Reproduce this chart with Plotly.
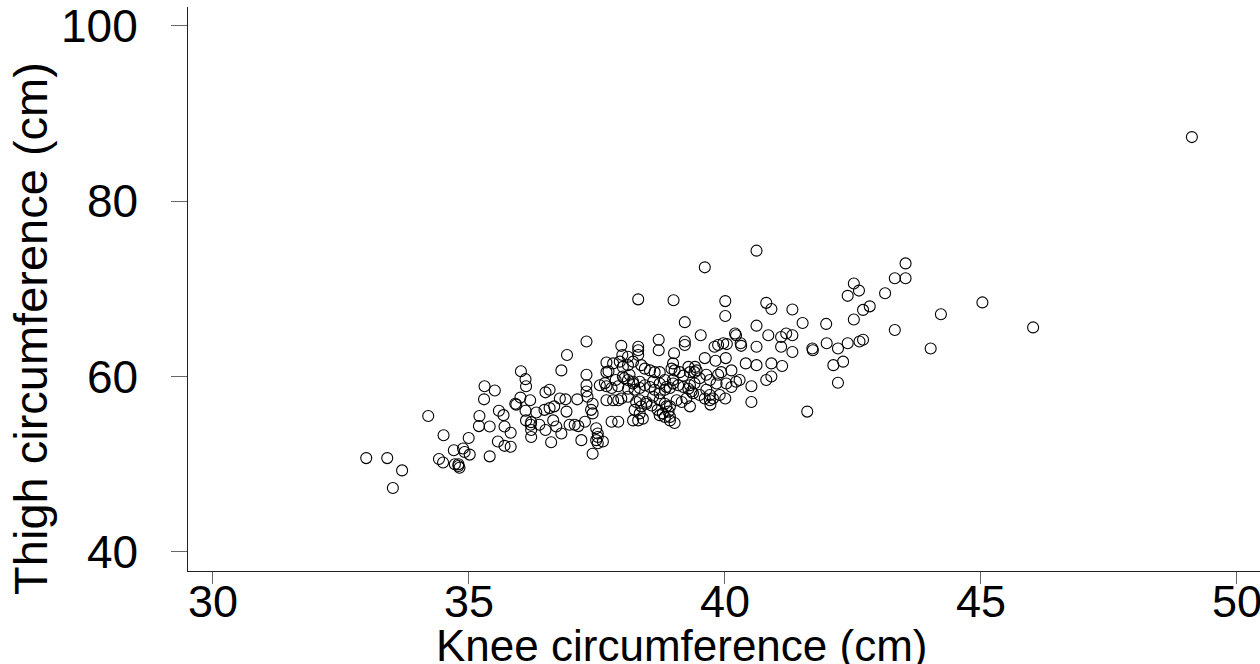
import plotly.graph_objects as go

# Knee and thigh circumference (cm) for each subject
knee_cm = [
    33.00, 33.41, 33.70, 33.52, 34.21, 34.51, 35.00, 34.71, 34.89, 34.92,
    35.02, 34.42, 34.50, 34.73, 34.80, 34.80, 34.82, 35.41, 35.31, 35.51,
    35.30, 35.21, 35.20, 35.41, 35.59, 35.68, 35.70, 35.57, 35.70, 35.82,
    35.82, 35.91, 35.93, 36.01,
    36.02, 36.11, 36.12, 36.50, 36.58, 36.20, 36.11, 36.32, 36.48, 36.12,
    36.22, 36.21, 36.22, 36.22, 36.50, 36.61, 36.38, 36.58, 36.67, 36.65,
    36.71, 36.81, 36.91, 36.97, 37.07, 37.20, 36.78, 36.89, 37.12, 36.92,
    36.81, 37.30, 37.14, 37.27,
    37.30, 37.30, 37.30, 37.32, 37.56, 37.66, 37.69, 37.73, 37.82, 37.95,
    37.69, 37.82, 37.92, 37.39, 37.42, 37.42, 37.79, 37.92, 37.49, 37.52,
    37.62, 37.49, 37.52, 37.42, 37.52, 37.98, 38.00, 38.11, 37.69, 38.01,
    38.11, 37.69, 37.79, 37.92, 37.87, 38.04, 38.14, 38.21, 38.01, 38.11,
    38.21, 38.11, 37.98, 38.11,
    38.31, 38.31, 38.31, 38.31, 38.71, 38.71, 38.21, 38.37, 38.44, 38.54,
    38.63, 38.73, 38.96, 38.99, 38.24, 38.34, 38.44, 38.54, 38.63, 38.73,
    38.83, 38.93, 38.34, 38.60, 38.73, 38.83, 38.86, 38.99, 38.99, 38.60,
    38.73, 38.83, 38.86, 38.90, 38.73, 38.83, 38.93, 39.02, 38.34, 38.47,
    38.57, 38.24, 38.34, 38.27, 38.37, 38.47, 38.69, 38.79, 38.40, 38.21,
    38.31, 38.93,
    39.00, 39.22, 39.53, 39.22, 39.22, 39.01, 39.61, 39.02, 39.12, 39.19,
    39.29, 39.42, 39.45, 39.41, 39.32, 39.51, 39.71, 39.84, 39.09, 39.19,
    39.29, 39.35, 39.32, 39.41, 39.38, 39.51, 39.61, 39.71, 39.72, 39.32,
    39.06, 39.16, 39.25, 38.93, 39.80, 39.87, 39.97, 39.61, 39.82, 39.64,
    39.87, 39.93, 39.64, 39.71, 39.90, 39.77,
    40.01, 40.01, 40.20, 40.22, 40.04, 40.02, 40.13, 40.03, 40.13, 40.22,
    40.29, 40.01, 40.62, 40.81, 40.91, 41.32, 41.52, 41.98, 40.62, 40.85,
    41.10, 41.20, 41.32, 40.31, 40.32, 40.62, 41.10, 41.32, 41.71, 41.72,
    41.99, 42.12, 42.31, 40.41, 40.62, 40.91, 41.12, 40.52, 40.81, 40.91,
    40.52, 41.61, 42.21, 42.21, 42.40, 42.63, 42.70, 42.52, 42.70, 42.83,
    42.40, 42.52, 42.62, 43.13, 43.32, 43.32, 43.53, 43.53, 44.02, 44.22,
    45.03, 46.02, 49.12,
]

thigh_cm = [
    50.7, 50.7, 49.3, 47.3, 55.5, 53.3, 53.0, 51.6, 51.8, 51.4,
    51.1, 50.6, 50.2, 50.0, 50.0, 49.8, 49.6, 50.9, 58.9, 58.4,
    57.4, 55.5, 54.35, 54.3, 56.1, 55.6, 54.3, 52.6, 52.1, 52.0,
    53.6, 56.9, 56.8, 57.6,
    60.6, 59.7, 58.9, 58.2, 58.5, 57.3, 56.1, 55.9, 56.2, 55.0,
    54.8, 54.5, 53.9, 53.1, 53.9, 52.5, 54.5, 56.4, 56.6, 55.0,
    54.3, 53.5, 56.0, 54.5, 54.5, 52.75, 57.5, 57.4, 57.4, 62.45,
    60.7, 64.0, 54.35, 54.85,
    58.3, 59.0, 60.2, 57.7, 59.0, 59.25, 58.9, 60.6, 61.5, 61.7,
    57.3, 57.3, 57.3, 56.2, 56.9, 55.8, 54.85, 54.85, 52.75, 52.4,
    52.6, 54.1, 53.5, 51.2, 53.1, 63.5, 62.45, 62.25, 60.5, 61.1,
    61.3, 61.6, 58.7, 58.9, 59.6, 59.8, 60.2, 59.4, 60.0, 59.6,
    59.2, 58.6, 57.5, 57.7,
    68.8, 63.4, 63.0, 62.45, 64.2, 63.0, 61.7, 61.3, 60.9, 60.7,
    60.5, 60.5, 60.9, 61.5, 58.5, 58.7, 59.0, 58.8, 58.5, 58.1,
    58.5, 58.7, 59.4, 59.4, 59.2, 59.6, 58.8, 59.2, 59.6, 57.7,
    57.3, 56.9, 56.6, 56.0, 55.6, 55.4, 55.4, 54.7, 57.3, 56.9,
    56.7, 56.2, 55.8, 57.1, 56.6, 57.1, 56.2, 55.8, 55.2, 55.0,
    55.0, 55.0,
    68.7, 66.2, 64.7, 64.0, 63.6, 62.65, 72.45, 60.7, 60.5, 60.1,
    61.1, 61.1, 60.7, 60.5, 60.5, 59.8, 59.6, 59.2, 59.0, 58.8,
    58.6, 58.3, 59.0, 59.2, 58.1, 57.9, 57.5, 57.3, 56.8, 56.6,
    57.3, 57.1, 57.5, 56.6, 63.4, 63.6, 63.8, 62.1, 61.8, 60.2,
    60.2, 60.5, 58.5, 57.9, 57.9, 57.5,
    68.6, 66.9, 64.9, 64.7, 63.7, 62.1, 60.7, 59.2, 58.8, 59.4,
    59.6, 57.5, 74.35, 68.4, 67.7, 67.65, 66.1, 66.0, 65.8, 64.7,
    64.5, 64.9, 64.7, 63.8, 63.5, 63.4, 63.4, 62.8, 63.2, 63.0,
    63.8, 61.3, 61.7, 61.5, 61.3, 61.5, 61.2, 58.9, 59.6, 60.0,
    57.1, 56.0, 59.3, 63.2, 63.8, 64.0, 64.2, 66.5, 67.6, 68.0,
    69.2, 70.6, 69.8, 69.5, 65.3, 71.2, 71.2, 72.9, 63.2, 67.1,
    68.45, 65.6, 87.3,
]

x_ticks = [30, 35, 40, 45, 50]
y_ticks = [40, 60, 80, 100]

FONT = "Liberation Sans, Arial, Helvetica, sans-serif"
TICK_SIZE = 45

fig = go.Figure(
    go.Scatter(
        x=knee_cm,
        y=thigh_cm,
        mode="markers",
        marker=dict(symbol="circle-open", size=11, color="black",
                    line=dict(width=1.1, color="black")),
        hoverinfo="x+y",
        showlegend=False,
    )
)

axis_common = dict(
    showgrid=False,
    zeroline=False,
    showline=True,
    linecolor="#222222",
    linewidth=1,
    ticks="outside",
    tickcolor="#666666",
    tickwidth=1,
    showticklabels=False,
)

# tick labels are placed as annotations so the outer ones may run to the edges
fig.update_xaxes(range=[29.52, 50.45], tickvals=x_ticks, ticklen=12, **axis_common)
fig.update_yaxes(range=[37.83, 102.13], tickvals=y_ticks, ticklen=16, **axis_common)

for v in x_ticks:
    fig.add_annotation(
        text=str(v),
        xref="x", yref="paper",
        x=v, y=-0.054,
        xanchor="center", yanchor="middle",
        showarrow=False,
        font=dict(family=FONT, size=TICK_SIZE, color="black"),
    )

for v in y_ticks:
    fig.add_annotation(
        text=str(v),
        xref="paper", yref="y",
        x=-0.045, y=v,
        xanchor="right", yanchor="middle",
        showarrow=False,
        font=dict(family=FONT, size=TICK_SIZE + 1, color="black"),
    )

fig.add_annotation(
    text="Knee circumference (cm)",
    xref="paper", yref="paper",
    x=0.46, y=-0.132,
    xanchor="center", yanchor="middle",
    showarrow=False,
    font=dict(family=FONT, size=44, color="black"),
)
fig.add_annotation(
    text="Thigh circumference (cm)",
    xref="paper", yref="paper",
    x=-0.147, y=0.43,
    xanchor="center", yanchor="middle",
    textangle=-90,
    showarrow=False,
    font=dict(family=FONT, size=47, color="black"),
)

fig.update_layout(
    width=1260,
    height=664,
    margin=dict(l=188, r=0, t=7, b=93),
    paper_bgcolor="white",
    plot_bgcolor="white",
)

fig.write_html("out.html")
